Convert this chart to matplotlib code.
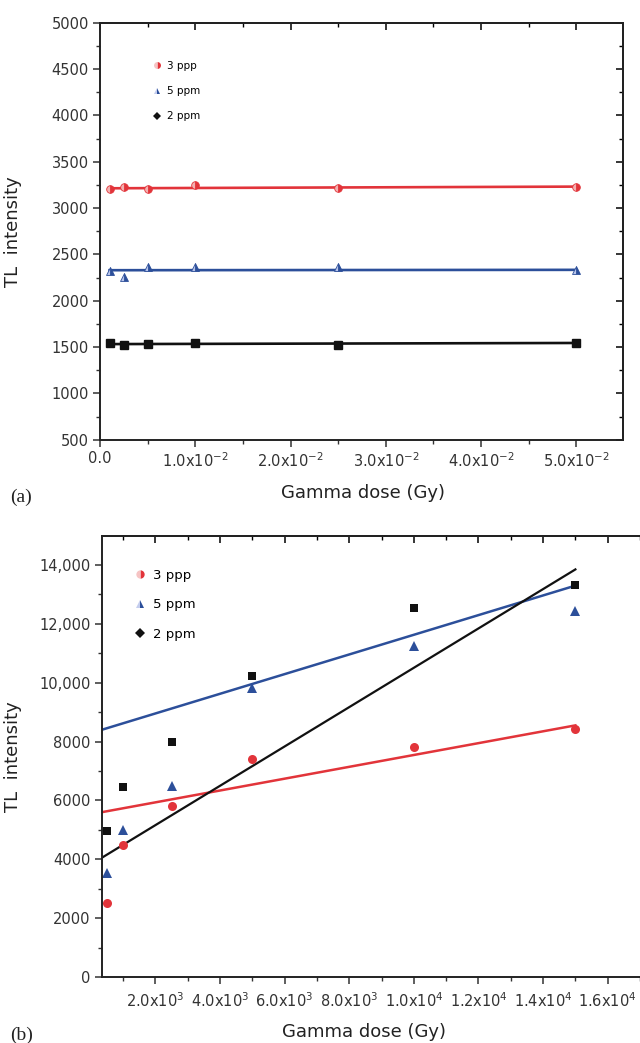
import numpy as np
import matplotlib
matplotlib.use('Agg')
import matplotlib.pyplot as plt
from matplotlib.lines import Line2D
from matplotlib.ticker import NullFormatter

plt.rcParams['font.family'] = ['DejaVu Sans']
plt.rcParams['mathtext.default'] = 'regular'

RED = '#e2343a'
BLUE = '#2c4f9a'
BLACK = '#111111'

# (a) low dose range
doseLow = [0.001, 0.0025, 0.005, 0.01, 0.025, 0.05]
tl3Low = [3203, 3231, 3209, 3249, 3220, 3231]
tl5Low = [2325, 2262, 2362, 2362, 2368, 2332]
tl2Low = [1545, 1522, 1532, 1540, 1522, 1550]
fitLowX = [0.001, 0.05]
fit3Low = [3214, 3232]
fit5Low = [2330, 2334]
fit2Low = [1533, 1545]
xTicksLow = [0.0, 0.01, 0.02, 0.03, 0.04, 0.05]
xLabelsLow = ['0.0', '1.0x10$^{-2}$', '2.0x10$^{-2}$', '3.0x10$^{-2}$',
              '4.0x10$^{-2}$', '5.0x10$^{-2}$']
yTicksLow = [500, 1000, 1500, 2000, 2500, 3000, 3500, 4000, 4500, 5000]

# (b) high dose range
doseHigh = [500, 1000, 2500, 5000, 10000, 15000]
tl3High = [2500, 4500, 5800, 7400, 7800, 8430]
tl5High = [3520, 5000, 6480, 9830, 11250, 12430]
tl2High = [4970, 6460, 8000, 10230, 12540, 13310]
fitHighX = [340, 15000]
fit3High = [5600, 8550]
fit5High = [8400, 13300]
fit2High = [4050, 13850]
xTicksHigh = [2000, 4000, 6000, 8000, 10000, 12000, 14000, 16000]
xLabelsHigh = ['2.0x10$^3$', '4.0x10$^3$', '6.0x10$^3$', '8.0x10$^3$',
               '1.0x10$^4$', '1.2x10$^4$', '1.4x10$^4$', '1.6x10$^4$']
yTicksHigh = [0, 2000, 4000, 6000, 8000, 10000, 12000, 14000]
yLabelsHigh = ['0', '2000', '4000', '6000', '8000', '10,000', '12,000', '14,000']

seriesNames = ['3 ppp', '5 ppm', '2 ppm']


def frameTicks(ax, xmaj, xmin, ymaj, ymin):
    # Origin style: ticks out on bottom/left, in on top/right
    ax.set_xticks(xmin, minor=True)
    ax.set_yticks(ymin, minor=True)
    ax.tick_params(which='major', direction='out', length=5, width=1.1,
                   labelsize=10.5, pad=3, colors='#333333')
    ax.tick_params(which='minor', direction='out', length=3, width=1.0,
                   colors='#333333')
    top = ax.secondary_xaxis('top')
    top.set_xticks(xmaj)
    top.set_xticks(xmin, minor=True)
    top.xaxis.set_major_formatter(NullFormatter())
    top.tick_params(which='major', direction='in', length=5, width=1.1)
    top.tick_params(which='minor', direction='in', length=3, width=1.0)
    right = ax.secondary_yaxis('right')
    right.set_yticks(ymaj)
    right.set_yticks(ymin, minor=True)
    right.yaxis.set_major_formatter(NullFormatter())
    right.tick_params(which='major', direction='in', length=5, width=1.1)
    right.tick_params(which='minor', direction='in', length=3, width=1.0)
    for sp in list(ax.spines.values()) + [top.spines['top'], right.spines['right']]:
        sp.set_linewidth(1.4)
        sp.set_color('#222222')


def legendHandles(ms):
    return [
        Line2D([], [], ls='none', marker='o', ms=ms, color=RED, fillstyle='right',
               markerfacecoloralt='#f6c4c4', markeredgewidth=0),
        Line2D([], [], ls='none', marker='^', ms=ms, color=BLUE, fillstyle='right',
               markerfacecoloralt='#c4cdee', markeredgewidth=0),
        Line2D([], [], ls='none', marker='D', ms=ms * 0.8, color=BLACK,
               markeredgewidth=0),
    ]


fig = plt.figure(figsize=(6.4, 10.43), dpi=100)

# ---- panel (a)
ax1 = fig.add_axes([0.1563, 0.5783, 0.8172, 0.3999])
ax1.plot(fitLowX, fit3Low, color=RED, lw=1.9)
ax1.plot(fitLowX, fit5Low, color=BLUE, lw=1.9)
ax1.plot(fitLowX, fit2Low, color=BLACK, lw=1.9)
ax1.plot(doseLow, tl3Low, ls='none', marker='o', ms=5.5, color=RED,
         fillstyle='right', markerfacecoloralt='#f3b0b0', markeredgewidth=0.6)
ax1.plot(doseLow, tl5Low, ls='none', marker='^', ms=6, color=BLUE,
         fillstyle='right', markerfacecoloralt='#b8c4ea', markeredgewidth=0.6)
ax1.plot(doseLow, tl2Low, ls='none', marker='s', ms=5.5, color=BLACK)
ax1.set_xlim(0, 0.0549)
ax1.set_ylim(500, 5000)
ax1.set_xticks(xTicksLow)
ax1.set_xticklabels(xLabelsLow)
ax1.set_yticks(yTicksLow)
frameTicks(ax1, xTicksLow, [0.005, 0.015, 0.025, 0.035, 0.045],
           yTicksLow, [750, 1250, 1750, 2250, 2750, 3250, 3750, 4250, 4750])
ax1.set_xlabel('Gamma dose (Gy)', fontsize=13, color='#222222')
ax1.xaxis.set_label_coords(0.503, -0.105)
ax1.set_ylabel('TL  intensity', fontsize=13, color='#222222')
ax1.yaxis.set_label_coords(-0.149, 0.5)
ax1.legend(legendHandles(5), seriesNames, loc='upper left',
           bbox_to_anchor=(0.099, 0.908), frameon=False, fontsize=7.5,
           handlelength=1.0, handletextpad=0.5, labelspacing=1.45,
           borderpad=0, borderaxespad=0)
fig.text(0.016, 1 - 497 / 1043, '(a)', family='Liberation Serif',
         fontsize=14, va='center', color='#222222')

# ---- panel (b): frame runs past the right edge of the figure
ax2 = fig.add_axes([0.159, 0.0633, 0.8723, 0.4232])
ax2.plot(fitHighX, fit3High, color=RED, lw=1.8)
ax2.plot(fitHighX, fit5High, color=BLUE, lw=1.8)
ax2.plot(fitHighX, fit2High, color=BLACK, lw=1.6)
ax2.plot(doseHigh, tl3High, ls='none', marker='o', ms=6.5, color=RED,
         markeredgewidth=0)
ax2.plot(doseHigh, tl5High, ls='none', marker='^', ms=7.5, color=BLUE,
         markeredgewidth=0)
ax2.plot(doseHigh, tl2High, ls='none', marker='s', ms=6, color=BLACK,
         markeredgewidth=0)
ax2.set_xlim(340, 17620)
ax2.set_ylim(0, 15000)
ax2.set_xticks(xTicksHigh)
ax2.set_xticklabels(xLabelsHigh)
ax2.set_yticks(yTicksHigh)
ax2.set_yticklabels(yLabelsHigh)
frameTicks(ax2, xTicksHigh,
           [1000, 3000, 5000, 7000, 9000, 11000, 13000, 15000, 17000],
           yTicksHigh, [1000, 3000, 5000, 7000, 9000, 11000, 13000])
ax2.tick_params(axis='x', pad=5)
ax2.set_xlabel('Gamma dose (Gy)', fontsize=13, color='#222222')
ax2.xaxis.set_label_coords(0.47, -0.105)
ax2.set_ylabel('TL  intensity', fontsize=13, color='#222222')
ax2.yaxis.set_label_coords(-0.142, 0.5)
ax2.legend(legendHandles(6), seriesNames, loc='upper left',
           bbox_to_anchor=(0.057, 0.925), frameon=False, fontsize=9.5,
           handlelength=1.0, handletextpad=0.5, labelspacing=1.25,
           borderpad=0, borderaxespad=0)
fig.text(0.016, 1 - 1035 / 1043, '(b)', family='Liberation Serif',
         fontsize=14, va='center', color='#222222')

fig.savefig('out.png', dpi=100)
